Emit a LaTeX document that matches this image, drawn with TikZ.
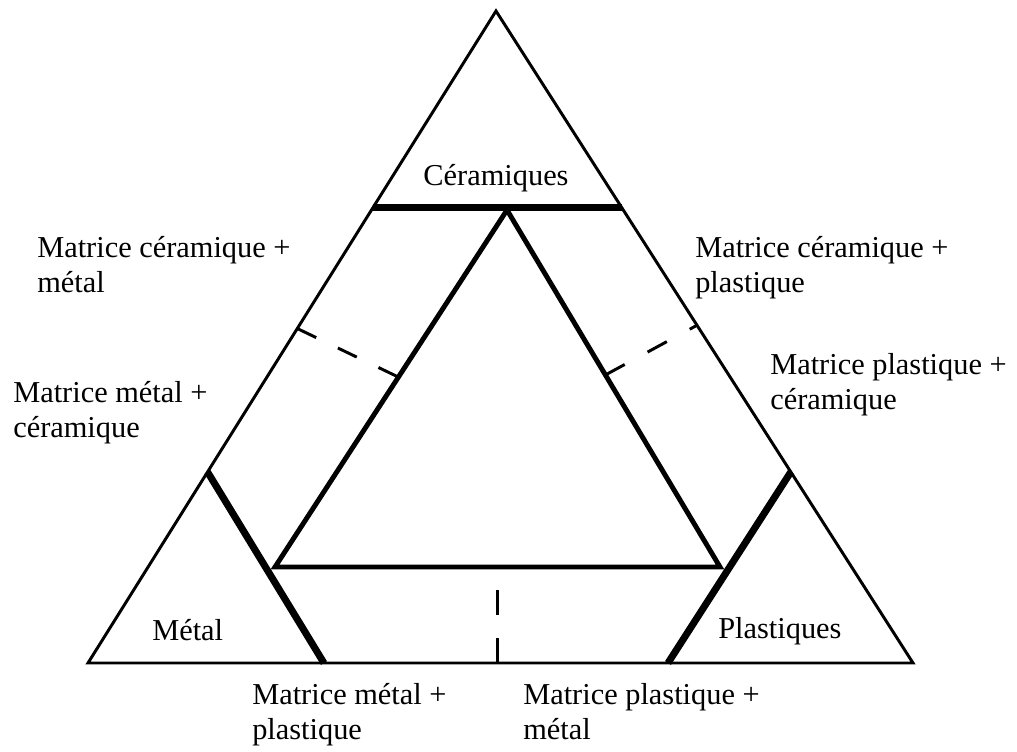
\documentclass[tikz,border=0pt]{standalone}
\usepackage{fontspec}
\setmainfont{Liberation Serif}
\usetikzlibrary{calc}

\begin{document}
\begin{tikzpicture}[x=0.025cm, y=-0.025cm,
  edge/.style={line width=2.1pt, line join=miter},
  cut/.style={line width=5pt},
  inner/.style={line width=3.5pt, line join=miter},
  sep/.style={line width=2.1pt},
every node/.style = {font=\fontsize{21.6}{24.2}\selectfont, inner sep=0pt, align=left}]

\useasboundingbox (0,0) rectangle (1017,751);

\coordinate (A) at (496,11);
\coordinate (B) at (88,663);
\coordinate (C) at (913,663);
\coordinate (P) at (507,210);
\coordinate (Q) at (275,567);
\coordinate (R) at (720,567);

\coordinate (t1) at ($(A)!0.302!(B)$);
\coordinate (t2) at ($(A)!0.302!(C)$);
\coordinate (l1) at ($(A)!0.707!(B)$);
\coordinate (l2) at ($(B)!0.286!(C)$);
\coordinate (r1) at ($(A)!0.707!(C)$);
\coordinate (r2) at ($(B)!0.703!(C)$);

\coordinate (d1) at ($(A)!0.487!(B)$);
\coordinate (d2) at ($(P)!0.468!(Q)$);
\coordinate (e1) at ($(A)!0.482!(C)$);
\coordinate (e2) at ($(P)!0.462!(R)$);
\coordinate (f1) at ($(Q)!0.499!(R)$);
\coordinate (f2) at (f1 |- B);

\draw[edge] (A) -- (B) -- (C) -- cycle;
\draw[cut] (t1) -- (t2);
\draw[cut] (l1) -- (l2);
\draw[cut] (r1) -- (r2);
\draw[inner] (P) -- (Q) -- (R) -- cycle;

\draw[sep, dash pattern=on 14.9pt off 17.1pt] (d1) -- (d2);
\draw[sep, dash pattern=on 15.6pt off 18.5pt] (e2) -- (e1);
\draw[sep, dash pattern=on 17.8pt off 16.4pt] (f2) -- (f1);

\node[anchor=base] (cer) at (496,185) {Céramiques};
\node[anchor=base west] (met) at (152,640) {Métal};
\node[anchor=base west] (pla) at (718,638) {Plastiques};

\node[anchor=base west] (cm) at (37,292) {Matrice céramique +\\métal};
\node[anchor=base west] (cp) at (695,292) {Matrice céramique +\\plastique};
\node[anchor=base west] (mc) at (13,437) {Matrice métal +\\céramique};
\node[anchor=base west] (pc) at (770,409) {Matrice plastique +\\céramique};
\node[anchor=base west] (mp) at (252,739) {Matrice métal +\\plastique};
\node[anchor=base west] (pm) at (523,739) {Matrice plastique +\\métal};
\end{tikzpicture}
\end{document}
